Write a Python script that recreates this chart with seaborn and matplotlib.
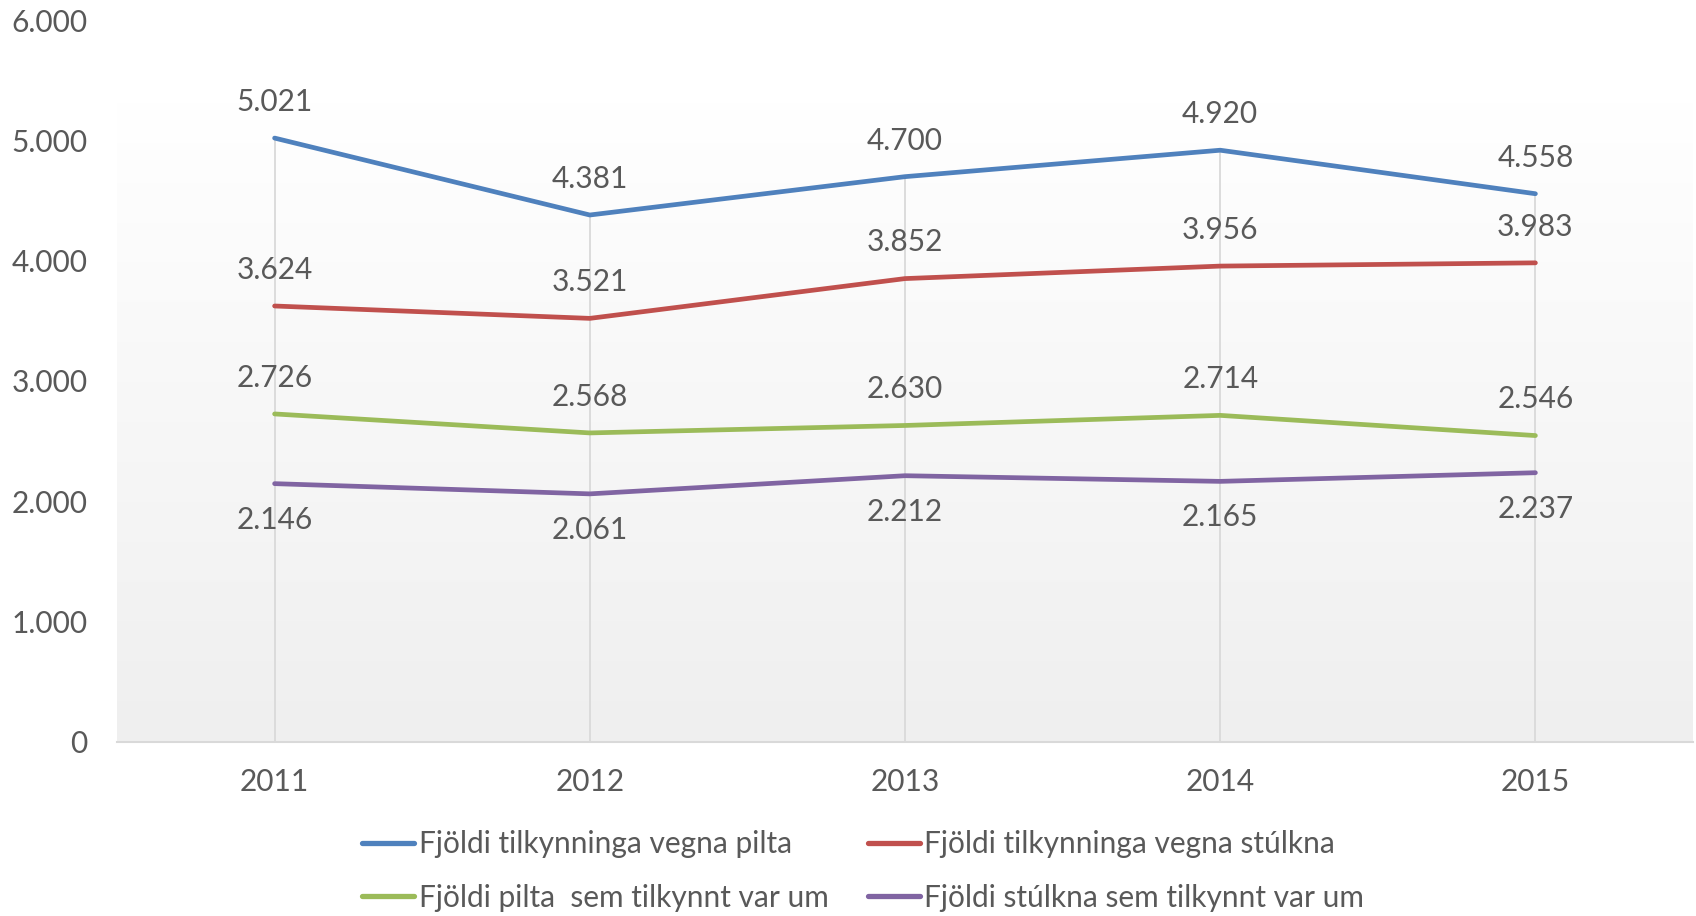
import numpy as np
import pandas as pd
import matplotlib
matplotlib.use("Agg")
import matplotlib.pyplot as plt
import seaborn as sns
from matplotlib.colors import LinearSegmentedColormap
from matplotlib.lines import Line2D

years = ["2011", "2012", "2013", "2014", "2015"]
series_names = [
    "Fjöldi tilkynninga vegna pilta",
    "Fjöldi tilkynninga vegna stúlkna",
    "Fjöldi pilta  sem tilkynnt var um",
    "Fjöldi stúlkna sem tilkynnt var um",
]
tilk_pilta = [5021, 4381, 4700, 4920, 4558]
tilk_stulkna = [3624, 3521, 3852, 3956, 3983]
pilta_um = [2726, 2568, 2630, 2714, 2546]
stulkna_um = [2146, 2061, 2212, 2165, 2237]
colors = ["#4f81bd", "#c0504d", "#9bbb59", "#8064a2"]
y_ticks = [0, 1000, 2000, 3000, 4000, 5000, 6000]

all_vals = [tilk_pilta, tilk_stulkna, pilta_um, stulkna_um]
rows = []
for name, vals in zip(series_names, all_vals):
    for i, v in enumerate(vals):
        rows.append({"x": i, "year": years[i], "value": v, "series": name})
df = pd.DataFrame(rows)

sns.set_theme(style="white")
plt.rcParams["font.family"] = ["Lato", "DejaVu Sans"]
text_color = "#595959"

fig = plt.figure(figsize=(16.96, 9.16), dpi=100)
ax = fig.add_axes([117 / 1696, 1 - 741.6 / 916, (1693 - 117) / 1696, (741.6 - 20.4) / 916])

# gradient background
grad = np.linspace(0, 1, 256).reshape(-1, 1)
cmap = LinearSegmentedColormap.from_list("g", ["#ffffff", "#efefef"])
ax.imshow(grad, aspect="auto", cmap=cmap, extent=(-0.5, 4.5, 0, 5317), origin="upper", zorder=0)

# drop lines
maxv = df.groupby("x")["value"].max()
ax.vlines(maxv.index, 0, maxv.values, color="#d9d9d9", lw=1.3, zorder=1)

sns.lineplot(data=df, x="x", y="value", hue="series", hue_order=series_names,
             palette=colors, lw=3.4, ax=ax, legend=False, zorder=3,
             solid_capstyle="round")

for k, (vals, col) in enumerate(zip(all_vals, colors)):
    off = -26 if k == 3 else 26
    for i, v in enumerate(vals):
        ax.annotate(f"{v:,}".replace(",", "."), (i, v), xytext=(0, off),
                    textcoords="offset points", ha="center", va="center",
                    fontsize=21.5, color=text_color, zorder=4)

ax.set_xlim(-0.5, 4.5)
ax.set_ylim(0, 6000)
ax.set_yticks(y_ticks)
ax.set_yticklabels([f"{v:,}".replace(",", ".") for v in y_ticks])
ax.set_xticks(range(len(years)))
ax.set_xticklabels(years)
ax.tick_params(axis="both", length=0, labelsize=21.5, labelcolor=text_color)
ax.tick_params(axis="y", pad=21)
ax.tick_params(axis="x", pad=19)
ax.set_xlabel("")
ax.set_ylabel("")
for s in ["top", "right", "left"]:
    ax.spines[s].set_visible(False)
ax.spines["bottom"].set_color("#d9d9d9")
ax.spines["bottom"].set_linewidth(1.5)
ax.spines["bottom"].set_zorder(2)
ax.set_facecolor("white")
ax.grid(False)

handles = [Line2D([], [], color=c, lw=3.8) for c in colors]
order = [0, 2, 1, 3]
leg = fig.legend([handles[i] for i in order], [series_names[i] for i in order],
                 ncol=2, loc="center", bbox_to_anchor=(0.509, 0.049),
                 frameon=False, fontsize=21.5, handlelength=1.74, handletextpad=0.15,
                 columnspacing=1.3, labelspacing=0.85, labelcolor=text_color)

fig.savefig("out.png", dpi=100, facecolor="white")
